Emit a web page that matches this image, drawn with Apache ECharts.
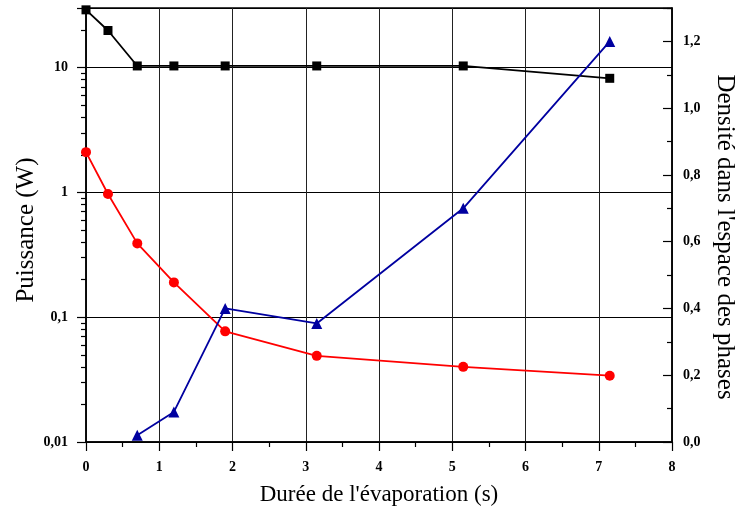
<!DOCTYPE html>
<html>
<head>
<meta charset="utf-8">
<script src="https://cdn.jsdelivr.net/npm/echarts@6/dist/echarts.min.js"></script>
<style>html,body{margin:0;padding:0;background:#fff}#c{width:740px;height:512px}</style>
</head>
<body>
<div id="c"></div>
<script>
var timeSquares = [0, 0.3, 0.7, 1.2, 1.9, 3.15, 5.15, 7.15];
var puissanceNoire = [29, 19.8, 10.3, 10.3, 10.3, 10.3, 10.3, 8.2];
var timeCircles = [0, 0.3, 0.7, 1.2, 1.9, 3.15, 5.15, 7.15];
var puissanceRouge = [2.1, 0.97, 0.39, 0.19, 0.077, 0.049, 0.040, 0.034];
var timeTriangles = [0.7, 1.2, 1.9, 3.15, 5.15, 7.15];
var densite = [0.02, 0.09, 0.40, 0.355, 0.70, 1.20];
var xTitle = "Durée de l'évaporation (s)";
var yLeftTitle = "Puissance (W)";
var yRightTitle = "Densité dans l'espace des phases";

function pairs(xs, ys) { return xs.map(function (x, i) { return [x, ys[i]]; }); }
function comma(v) { return String(v).replace('.', ','); }

var serif = 'Liberation Serif';
var labelStyle = { color: '#000', fontFamily: serif, fontWeight: 'bold', fontSize: 14 };

var chart = echarts.init(document.getElementById('c'), null, { renderer: 'canvas' });
chart.setOption({
  animation: false,
  backgroundColor: '#fff',
  grid: { left: 86, right: 68, top: 8, bottom: 70, containLabel: false, outerBoundsMode: 'none',
    show: true, borderColor: '#000', borderWidth: 1.5, backgroundColor: 'transparent' },
  xAxis: {
    type: 'value', min: 0, max: 8, interval: 1,
    name: xTitle, nameLocation: 'middle', nameGap: 41,
    nameTextStyle: { color: '#000', fontFamily: serif, fontSize: 23 },
    axisLine: { show: true, lineStyle: { color: '#000', width: 1.5 } },
    axisTick: { show: true, inside: false, length: 9, lineStyle: { color: '#000', width: 1.2 } },
    minorTick: { show: true, splitNumber: 2, length: 5, lineStyle: { color: '#000', width: 1.2 } },
    axisLabel: Object.assign({ margin: 18, formatter: function (v) { return comma(v); } }, labelStyle),
    splitLine: { show: true, lineStyle: { color: '#222', width: 1 } }
  },
  yAxis: [{
    type: 'log', logBase: 10, min: 0.01, max: 30, position: 'left',
    name: yLeftTitle, nameLocation: 'middle', nameGap: 47, nameRotate: 90, nameMoveOverlap: false,
    nameTextStyle: { color: '#000', fontFamily: serif, fontSize: 25, padding: [0, 10, 0, 0] },
    axisLine: { show: true, lineStyle: { color: '#000', width: 1.5 } },
    axisTick: { show: true, inside: false, length: 9, lineStyle: { color: '#000', width: 1.2 } },
    minorTick: { show: true, splitNumber: 9, length: 5, lineStyle: { color: '#000', width: 1.2 } },
    axisLabel: Object.assign({ margin: 18, formatter: function (v) {
      var l = Math.log10(v);
      return Math.abs(l - Math.round(l)) < 1e-6 ? comma(v) : '';
    } }, labelStyle),
    splitLine: { show: true, lineStyle: { color: '#000', width: 1 } }
  }, {
    type: 'value', min: 0, max: 1.3, interval: 0.2, position: 'right',
    name: yRightTitle, nameLocation: 'middle', nameGap: 40, nameRotate: -90,
    nameTextStyle: { color: '#000', fontFamily: serif, fontSize: 25, padding: [0, 0, 0, 24] },
    axisLine: { show: true, lineStyle: { color: '#000', width: 1.5 } },
    axisTick: { show: true, inside: true, length: 9, lineStyle: { color: '#000', width: 1.2 } },
    minorTick: { show: true, splitNumber: 2, length: 5, lineStyle: { color: '#000', width: 1.2 } },
    axisLabel: Object.assign({ margin: 11, formatter: function (v) {
      var r = Math.round(v * 10);
      return r % 2 === 0 ? (r / 10).toFixed(1).replace('.', ',') : '';
    } }, labelStyle),
    splitLine: { show: false }
  }],
  series: [{
    type: 'line', yAxisIndex: 0, data: pairs(timeSquares, puissanceNoire),
    symbol: 'rect', symbolSize: 9, showAllSymbol: true,
    lineStyle: { color: '#000', width: 1.8 }, itemStyle: { color: '#000' }
  }, {
    type: 'line', yAxisIndex: 0, data: pairs(timeCircles, puissanceRouge),
    symbol: 'circle', symbolSize: 10,
    lineStyle: { color: '#ff0000', width: 1.8 }, itemStyle: { color: '#ff0000' }
  }, {
    type: 'line', yAxisIndex: 1, data: pairs(timeTriangles, densite),
    symbol: 'triangle', symbolSize: 11,
    lineStyle: { color: '#0000a0', width: 1.8 }, itemStyle: { color: '#0000a0' }
  }]
});
</script>
</body>
</html>
